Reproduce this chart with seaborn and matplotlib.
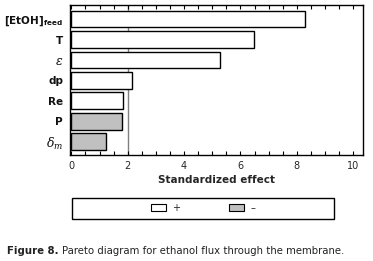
import matplotlib
matplotlib.use("Agg")
import matplotlib.pyplot as plt
from matplotlib.patches import Patch, Rectangle
import seaborn as sns
import pandas as pd

factors = [r"[EtOH]$_{\mathregular{feed}}$", "T", r"$\varepsilon$", "dp", "Re", "P", r"$\delta_m$"]
effects = [8.28, 6.49, 5.28, 2.14, 1.83, 1.78, 1.23]
signs = ["+", "+", "+", "+", "+", "\u2013", "\u2013"]
threshold = 2.0

df = pd.DataFrame({"factor": factors, "effect": effects, "sign": signs})

sns.set_style("white")
plt.rcParams['font.family'] = ['DejaVu Sans']
plt.rcParams['mathtext.fontset'] = 'dejavuserif'

W, H = 373, 261
fig = plt.figure(figsize=(W / 100, H / 100), dpi=100)
ax = fig.add_axes([70 / W, 1 - 155 / H, (363 - 70) / W, 150 / H])

palette = {"+": "white", "\u2013": "#c0c0c0"}
sns.barplot(data=df, y="factor", x="effect", hue="sign", palette=palette,
            orient="h", dodge=False, width=0.82, edgecolor="black",
            linewidth=1.0, legend=False, ax=ax)

ax.axvline(threshold, color="#808080", lw=1.0, zorder=0.5)
ax.set_xlim(-0.05, 10.35)
ax.set_ylim(6.65, -0.69)
ax.set_xticks(range(0, 11, 2))
ax.set_xticks([i * 0.5 for i in range(21)], minor=True)
ax.tick_params(axis="x", which="both", direction="in", top=True, bottom=True,
               length=3, width=0.8, labelsize=7, pad=4, color="black")
ax.tick_params(axis="y", length=0, labelsize=7.5, pad=5)
for lab in ax.get_yticklabels():
    lab.set_fontweight("bold")
    lab.set_color("#111111")
    if "varepsilon" in lab.get_text() or "delta" in lab.get_text():
        lab.set_fontsize(9)
ax.set_ylabel("")
ax.set_xlabel("Standardized effect", fontsize=7.5, fontweight="bold", labelpad=3)
for s in ax.spines.values():
    s.set_visible(True)
    s.set_color("black")
    s.set_linewidth(1.0)

# legend box
fig.add_artist(Rectangle((72 / W, 1 - 219 / H), (334 - 72) / W, 21 / H,
                         transform=fig.transFigure, facecolor="white",
                         edgecolor="black", lw=1.0))
handles = [Patch(facecolor="white", edgecolor="black", lw=0.8),
           Patch(facecolor="#c0c0c0", edgecolor="black", lw=0.8)]
fig.legend(handles, ["+", "\u2013"], loc="center", ncol=2,
           bbox_to_anchor=(203 / W, 1 - 208 / H), frameon=False,
           fontsize=7, handlelength=1.6, handleheight=0.8,
           handletextpad=0.6, columnspacing=5.0)

t1 = fig.text(7 / W, 1 - 251 / H, "Figure 8.", fontsize=7.3, fontweight="bold",
              color="#222222", va="center")
fig.canvas.draw()
bb = t1.get_window_extent()
fig.text((bb.x1 + 3) / W, 1 - 251 / H,
         "Pareto diagram for ethanol flux through the membrane.",
         fontsize=7.3, color="#222222", va="center")

fig.savefig("out.png", dpi=100)
